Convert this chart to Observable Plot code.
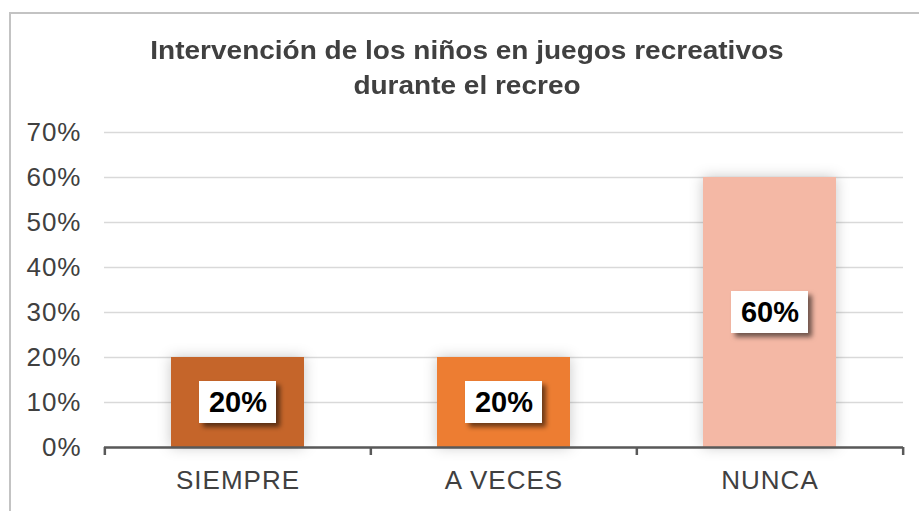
<!DOCTYPE html>
<html>
<head>
<meta charset="utf-8">
<script src="https://cdn.jsdelivr.net/npm/d3@7"></script>
<script src="https://cdn.jsdelivr.net/npm/@observablehq/plot@0.6"></script>
<style>
  html, body { margin: 0; padding: 0; background: #fff; }
  #wrap { position: relative; width: 919px; height: 511px; overflow: hidden; background: #fff; font-family: "Liberation Sans", Arial, sans-serif; }
  #frame { position: absolute; left: 9px; top: 12px; width: 1000px; height: 1000px; border-left: 2px solid #c3c3c3; border-top: 2px solid #c3c3c3; box-sizing: border-box; }
  #title { position: absolute; left: 10px; width: 914px; top: 33px; text-align: center; font-weight: bold; font-size: 25px; line-height: 35px; color: #404040; transform: scaleX(1.12); transform-origin: 457px 0; }
  #chart { position: absolute; left: 0; top: 0; }
  g[aria-label="y-axis tick label"] text, g[aria-label="x-axis tick label"] text { letter-spacing: 1px; }
</style>
</head>
<body>
<div id="wrap">
  <div id="frame"></div>
  <div id="chart"></div>
  <div id="title">Intervención de los niños en juegos recreativos<br>durante el recreo</div>
</div>
<script>
const categories = ["SIEMPRE", "A VECES", "NUNCA"];
const values = [0.20, 0.20, 0.60];
const colors = ["#C5652B", "#ED7D31", "#F4B8A5"];
const yTicks = [0, 0.1, 0.2, 0.3, 0.4, 0.5, 0.6, 0.7];
const labels = ["20%", "20%", "60%"];

const data = categories.map((c, i) => ({cat: c, value: values[i], label: labels[i]}));

const W = 919, H = 511, ML = 104, MR = 16, MT = 132, MB = 64;
const step = (W - ML - MR) / categories.length;

const chart = Plot.plot({
  width: W,
  height: H,
  marginLeft: ML,
  marginRight: MR,
  marginTop: MT,
  marginBottom: MB,
  style: {fontFamily: "'Liberation Sans', Arial, sans-serif", fontSize: "26px", color: "#404040", background: "transparent", overflow: "visible"},
  x: {domain: categories, paddingInner: 0.5, paddingOuter: 0.25, label: null},
  y: {domain: [0, 0.7], label: null},
  color: {domain: categories, range: colors},
  marks: [
    Plot.ruleY(yTicks, {y: d => d, stroke: "#d9d9d9", strokeWidth: 1.3}),
    Plot.barY(data, {x: "cat", y: "value", fill: "cat", ariaLabel: "bars"}),
    Plot.ruleY([0], {stroke: "#595959", strokeWidth: 2.5}),
    Plot.ruleX(data, {x: "cat", y1: 0, y2: 0, dx: -step / 2, insetBottom: -8, stroke: "#595959", strokeWidth: 2.5}),
    Plot.ruleX(data.slice(-1), {x: "cat", y1: 0, y2: 0, dx: step / 2, insetBottom: -8, stroke: "#595959", strokeWidth: 2.5}),
    Plot.barY(data, {x: "cat", y1: d => d.value / 2, y2: d => d.value / 2, insetTop: -21, insetBottom: -21, insetLeft: 28, insetRight: 28, fill: "#ffffff", ariaLabel: "labelbox"}),
    Plot.text(data, {x: "cat", y: d => d.value / 2, text: "label", fontSize: 29, fontWeight: "bold", fill: "#000000", textAnchor: "middle"}),
    Plot.axisY({ticks: yTicks, tickFormat: d3.format(".0%"), tickSize: 0, tickPadding: 23, fontSize: 26, fill: "#404040", label: null}),
    Plot.axisX({tickSize: 0, tickPadding: 23, fontSize: 26, fill: "#404040", label: null})
  ]
});

// SVG filters for the soft glow around bars and the drop shadow of label boxes
const svg = d3.select(chart);
const defs = svg.insert("defs", ":first-child");
const glow = defs.append("filter").attr("id", "barGlow")
  .attr("x", "-30%").attr("y", "-30%").attr("width", "160%").attr("height", "160%");
glow.append("feDropShadow").attr("dx", 0).attr("dy", 0).attr("stdDeviation", 7)
  .attr("flood-color", "#000").attr("flood-opacity", 0.22);
const shadow = defs.append("filter").attr("id", "boxShadow")
  .attr("x", "-30%").attr("y", "-30%").attr("width", "170%").attr("height", "180%");
shadow.append("feDropShadow").attr("dx", 4).attr("dy", 4).attr("stdDeviation", 2.5)
  .attr("flood-color", "#000").attr("flood-opacity", 0.55);

svg.selectAll("rect").each(function () {
  const g = this.parentNode;
  const gFill = g.getAttribute("fill");
  const label = g.getAttribute("aria-label");
  if (label === "labelbox" || (gFill && gFill.toLowerCase() === "#ffffff")) {
    this.setAttribute("filter", "url(#boxShadow)");
  } else if (label === "bars" || this.getAttribute("fill")) {
    this.setAttribute("filter", "url(#barGlow)");
  }
});

document.getElementById("chart").appendChild(chart);
</script>
</body>
</html>
